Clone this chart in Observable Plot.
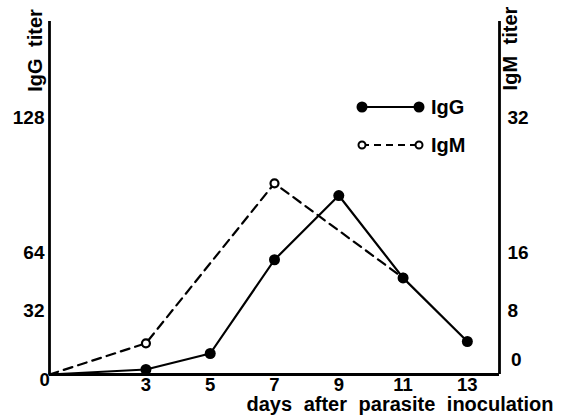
<!DOCTYPE html>
<html><head><meta charset="utf-8">
<script src="https://cdn.jsdelivr.net/npm/d3@7"></script>
<script src="https://cdn.jsdelivr.net/npm/@observablehq/plot@0.6"></script>
<style>body{margin:0;background:#fff}</style>
</head><body><div id="chart"></div>
<script>
// Data (days after inoculation, titers)
const iggDays = [0, 3, 5, 7, 9, 11, 13];
const iggTiter = [0, 2.5, 10.5, 60, 91, 50, 16.5];
const igmDays = [0, 3, 7, 11];
const igmTiter = [0, 3.9, 24.2, 12.5];   // in IgM units (right axis)
const xTicks = [3, 5, 7, 9, 11, 13];
const leftTicks = [32, 64, 128];
const rightTicks = [8, 16, 32];
const legendLabels = ["IgG", "IgM"];

const igg = iggDays.map((d, i) => ({day: d, v: iggTiter[i]}));
const igm = igmDays.map((d, i) => ({day: d, v: igmTiter[i] * 4}));
const iggMarks = igg.filter(d => d.day > 0);
const igmMarks = igm.filter(d => d.day > 0);

const font = "'Liberation Sans', Arial, sans-serif";
const fs = 19;

const chart = Plot.plot({
  width: 566, height: 418,
  marginLeft: 49, marginRight: 67, marginTop: 21, marginBottom: 44,
  style: {fontFamily: font, background: "#fff", color: "#000"},
  x: {domain: [0, 14], label: null},
  y: {type: "linear", domain: [0, 32, 64, 128, 174], range: [374, 310, 252, 117, 20], label: null},
  marks: [
    Plot.ruleX([0, 14], {strokeWidth: 2.8}),
    Plot.ruleY([0], {strokeWidth: 2.8}),
    Plot.axisY({ticks: leftTicks, anchor: "left", tickSize: 0, tickPadding: 5, fontSize: fs, fontWeight: "bold", label: null}),
    Plot.axisY({ticks: rightTicks.map(d => d * 4), tickFormat: d => d / 4, anchor: "right", tickSize: 0, tickPadding: 8, fontSize: fs, fontWeight: "bold", label: null}),
    Plot.axisX({ticks: xTicks, anchor: "bottom", tickSize: 0, tickPadding: 3, fontSize: 18.5, fontWeight: "bold", label: null}),
    Plot.text(["0"], {frameAnchor: "bottom-left", dx: -10, dy: 11, fontSize: 18.5, fontWeight: "bold"}),
    Plot.text(["0"], {frameAnchor: "bottom-right", dx: 22, dy: -9, fontSize: fs, fontWeight: "bold"}),
    Plot.text(["IgG titer"], {frameAnchor: "top-left", textAnchor: "middle", rotate: -90, dx: -22, dy: 29, fontSize: 20, fontWeight: "bold"}),
    Plot.text(["IgM titer"], {frameAnchor: "top-right", textAnchor: "middle", rotate: -90, dx: 3, dy: 27, fontSize: 20, fontWeight: "bold"}),
    Plot.text(["days after parasite inoculation"], {frameAnchor: "bottom-right", textAnchor: "end", dx: 54, dy: 36, fontSize: 20, fontWeight: "bold"}),
    Plot.line(igm, {x: "day", y: "v", stroke: "#000", strokeWidth: 2.2, strokeDasharray: "9,6"}),
    Plot.line(igg, {x: "day", y: "v", stroke: "#000", strokeWidth: 2.2}),
    Plot.dot(igmMarks, {x: "day", y: "v", r: 4, fill: "#fff", stroke: "#000", strokeWidth: 2.2}),
    Plot.dot(iggMarks, {x: "day", y: "v", r: 5.5, fill: "#000", stroke: "none"})
  ]
});

// legend
const svg = d3.select(chart);
const lg = svg.append("g").attr("font-family", font).attr("font-weight", "bold").attr("font-size", 20).attr("text-anchor", "start");
legendLabels.forEach((lab, i) => {
  const y = 107 + i * 38, x1 = 362, x2 = 419;
  const filled = i === 0;
  lg.append("line").attr("x1", x1).attr("x2", x2).attr("y1", y).attr("y2", y)
    .attr("stroke", "#000").attr("stroke-width", 2.2)
    .attr("stroke-dasharray", filled ? null : "7,5");
  [x1, x2].forEach(x => lg.append("circle").attr("cx", x).attr("cy", y)
    .attr("r", filled ? 5.5 : 3.5).attr("fill", filled ? "#000" : "#fff")
    .attr("stroke", filled ? "none" : "#000").attr("stroke-width", 2));
  lg.append("text").attr("x", 431).attr("y", y).attr("dy", "0.35em").text(lab);
});
svg.selectAll("text").style("word-spacing", "6px");
document.getElementById("chart").append(chart);
</script>
</body></html>
